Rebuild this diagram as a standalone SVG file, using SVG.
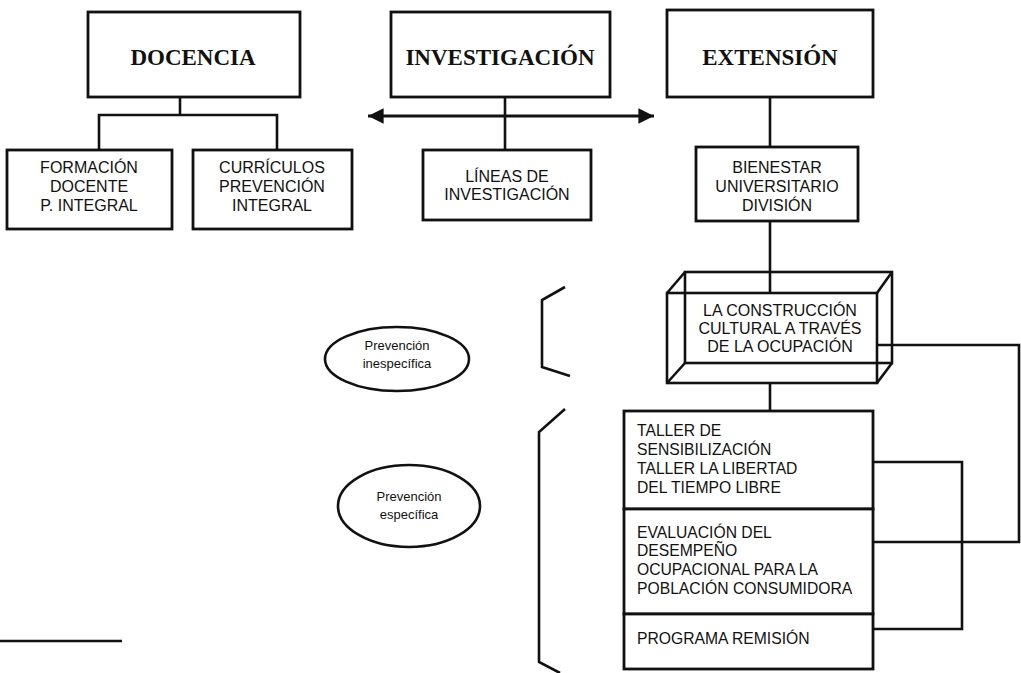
<svg xmlns="http://www.w3.org/2000/svg" width="1021" height="673" viewBox="0 0 1021 673">
<style>
.box{fill:#fff;stroke:#111;stroke-width:2.8}
.wire{fill:none;stroke:#111;stroke-width:2.6}
.ln{fill:none;stroke:#111;stroke-width:2.6}
.ttl{font-family:"Liberation Serif",serif;font-weight:bold;font-size:23px;fill:#111;text-anchor:middle}
.t{font-family:"Liberation Sans",Arial,sans-serif;font-size:15.7px;fill:#111}
.s{font-size:16px}
.c{text-anchor:middle}
.e{font-family:"Liberation Sans",Arial,sans-serif;font-size:13px;fill:#111;text-anchor:middle}
</style>
<defs>
<marker id="ah" viewBox="0 0 10 10" refX="10" refY="5" markerWidth="5.2" markerHeight="5.5" orient="auto-start-reverse" markerUnits="strokeWidth">
<path d="M0,0 L10,5 L0,10 z" fill="#111"/>
</marker>
</defs>
<rect width="1021" height="673" fill="#fff"/>
<g id="connectors">
<polyline class="ln" points="180,97 180,115"/>
<polyline class="ln" points="99,150 99,115 277,115 277,150"/>
<line x1="368" y1="116" x2="654" y2="116" stroke="#111" stroke-width="3" marker-start="url(#ah)" marker-end="url(#ah)"/>
<line class="ln" x1="505" y1="97" x2="505" y2="150"/>
<line class="ln" x1="770" y1="97" x2="770" y2="147"/>
<line class="ln" x1="770" y1="221" x2="770" y2="293"/>
<line class="ln" x1="770" y1="383" x2="770" y2="411"/>
<polyline class="ln" points="877,345 1019,345 1019,542 873,542"/>
<polyline class="ln" points="873,462 962,462 962,629 873,629"/>
<polyline class="ln" points="565,287 542,300 542,367 570,376"/>
<polyline class="ln" points="565,409 539,432 539,662 560,673"/>
<line x1="0" y1="641" x2="122" y2="641" stroke="#111" stroke-width="2.6"/>
</g>
<g id="docencia">
<rect class="box" x="88" y="12" width="212" height="85"/>
<text class="ttl" x="193" y="65">DOCENCIA</text>
</g>
<g id="investigacion">
<rect class="box" x="391" y="12" width="219" height="85"/>
<text class="ttl" x="500" y="65">INVESTIGACIÓN</text>
</g>
<g id="extension">
<rect class="box" x="667" y="10" width="206" height="87"/>
<text class="ttl" x="770" y="65">EXTENSIÓN</text>
</g>
<g id="formacion">
<rect class="box" x="7" y="150" width="165" height="79"/>
<text class="t s c" x="89" y="173">FORMACIÓN</text>
<text class="t s c" x="89" y="192">DOCENTE</text>
<text class="t s c" x="89" y="211">P. INTEGRAL</text>
</g>
<g id="curriculos">
<rect class="box" x="193" y="150" width="159" height="79"/>
<text class="t s c" x="272" y="173">CURRÍCULOS</text>
<text class="t s c" x="272" y="192">PREVENCIÓN</text>
<text class="t s c" x="272" y="211">INTEGRAL</text>
</g>
<g id="lineas">
<rect class="box" x="423" y="150" width="168" height="70"/>
<text class="t s c" x="507" y="182">LÍNEAS DE</text>
<text class="t s c" x="507" y="200">INVESTIGACIÓN</text>
</g>
<g id="bienestar">
<rect class="box" x="696" y="147" width="162" height="74"/>
<text class="t s c" x="777" y="173">BIENESTAR</text>
<text class="t s c" x="777" y="192">UNIVERSITARIO</text>
<text class="t s c" x="777" y="211">DIVISIÓN</text>
</g>
<g id="construccion">
<rect class="wire" x="685" y="272" width="207" height="91"/>
<line class="wire" x1="667" y1="293" x2="685" y2="272"/>
<line class="wire" x1="877" y1="293" x2="892" y2="272"/>
<line class="wire" x1="667" y1="383" x2="685" y2="363"/>
<line class="wire" x1="877" y1="383" x2="892" y2="363"/>
<rect class="wire" x="667" y="293" width="210" height="90"/>
<text class="t s c" x="780" y="316">LA CONSTRUCCIÓN</text>
<text class="t s c" x="780" y="334">CULTURAL A TRAVÉS</text>
<text class="t s c" x="780" y="352">DE LA OCUPACIÓN</text>
</g>
<g id="inespecifica">
<ellipse class="wire" cx="397" cy="359" rx="72" ry="32"/>
<text class="e" x="397" y="350">Prevención</text>
<text class="e" x="397" y="368">inespecífica</text>
</g>
<g id="especifica">
<ellipse class="wire" cx="409" cy="506" rx="71" ry="41"/>
<text class="e" x="409" y="501">Prevención</text>
<text class="e" x="409" y="519">específica</text>
</g>
<g id="talleres">
<rect class="box" x="624" y="411" width="249" height="98"/>
<text class="t" x="637" y="436">TALLER DE</text>
<text class="t" x="637" y="455">SENSIBILIZACIÓN</text>
<text class="t" x="637" y="474">TALLER LA LIBERTAD</text>
<text class="t" x="637" y="493">DEL TIEMPO LIBRE</text>
</g>
<g id="evaluacion">
<rect class="box" x="624" y="509" width="249" height="105"/>
<text class="t" x="637" y="538">EVALUACIÓN DEL</text>
<text class="t" x="637" y="556">DESEMPEÑO</text>
<text class="t" x="637" y="575">OCUPACIONAL PARA LA</text>
<text class="t" x="637" y="594">POBLACIÓN CONSUMIDORA</text>
</g>
<g id="remision">
<rect class="box" x="624" y="614" width="249" height="55"/>
<text class="t" x="637" y="644">PROGRAMA REMISIÓN</text>
</g>
</svg>
